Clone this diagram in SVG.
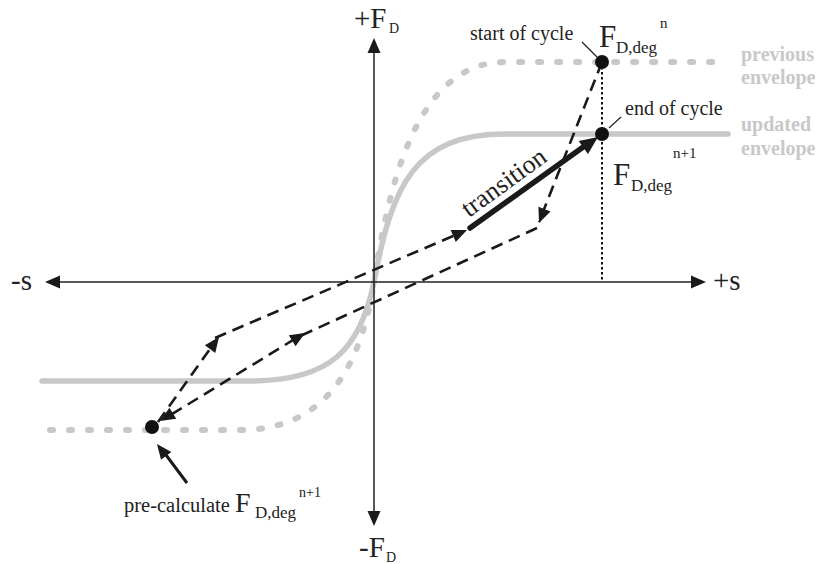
<svg xmlns="http://www.w3.org/2000/svg" xmlns:xlink="http://www.w3.org/1999/xlink" width="820" height="564" viewBox="0 0 820 564">
<style>
.t{font-family:"Liberation Serif","Times New Roman",serif;fill:#222}
.env{font-family:"Liberation Serif","Times New Roman",serif;font-weight:bold;fill:#c8c8c8;font-size:20px}
.axis{stroke:#222;stroke-width:1.5;fill:none}
.dash{stroke:#1a1a1a;stroke-width:2.6;fill:none;stroke-dasharray:12 7}
.prev{stroke:#c8c8c8;stroke-width:6;fill:none;stroke-dasharray:3 16;stroke-linecap:round}
.upd{stroke:#c8c8c8;stroke-width:5.5;fill:none;stroke-linecap:round}
.ah{fill:#1a1a1a}
.pt{fill:#111}
</style>
<defs>
<path id="ah" d="M0,0 L-15,-6.5 L-15,6.5 Z"/>
<path id="ahb" d="M0,0 L-18,-8 L-18,8 Z"/>
</defs>
<g id="envelopes">
<path id="previous-envelope" class="prev" d="M50,430 L240,430 C330,430 362,360 374,282 C388,190 415,62 505,62 L722,62"/>
<path id="updated-envelope" class="upd" d="M42,381 L250,381 C330,381 360,350 374,282 C392,185 415,134 505,134 L728,134"/>
</g>
<g id="axes">
<line class="axis" x1="374" y1="50" x2="374" y2="514"/>
<line class="axis" x1="57" y1="282" x2="694" y2="282"/>
<use xlink:href="#ah" class="ah" transform="translate(374,38) rotate(-90)"/>
<use xlink:href="#ah" class="ah" transform="translate(374,526) rotate(90)"/>
<use xlink:href="#ah" class="ah" transform="translate(45,282) rotate(180)"/>
<use xlink:href="#ah" class="ah" transform="translate(706,282)"/>
<line x1="602" y1="62" x2="602" y2="282" stroke="#111" stroke-width="2" stroke-dasharray="2.5 2.5"/>
</g>
<g id="connectors">
<path class="dash" d="M602,62 L539,222"/>
<path class="dash" d="M537,228 L298,337 L164,419"/>
<path class="dash" d="M158,422 L215,342"/>
<path class="dash" d="M215,338 L460,233"/>
<line x1="470" y1="228" x2="586" y2="145" stroke="#1a1a1a" stroke-width="5.5" stroke-linecap="round"/>
<line x1="187" y1="483" x2="166" y2="455" stroke="#1a1a1a" stroke-width="3"/>
<use xlink:href="#ah" class="ah" transform="translate(539,223) rotate(111.4)"/>
<use xlink:href="#ah" class="ah" transform="translate(160,421) rotate(148.7)"/>
<use xlink:href="#ah" class="ah" transform="translate(305,333) rotate(-31.3)"/>
<use xlink:href="#ah" class="ah" transform="translate(219,337) rotate(-53.4)"/>
<use xlink:href="#ah" class="ah" transform="translate(467,230) rotate(-23.2)"/>
<use xlink:href="#ahb" class="ah" transform="translate(598,137) rotate(-35.4)"/>
<use xlink:href="#ah" class="ah" transform="translate(157,444) rotate(-127.6)"/>
<line x1="582" y1="42" x2="597" y2="57" stroke="#222" stroke-width="1.2"/>
<line x1="621" y1="117" x2="609" y2="128" stroke="#222" stroke-width="1.2"/>
</g>
<g id="node-start">
<circle class="pt" cx="602" cy="62" r="7"/>
<text class="t" x="470" y="40" font-size="20">start of cycle</text>
<text class="t" x="599" y="47" font-size="31">F</text>
<text class="t" x="616" y="53" font-size="17">D,deg</text>
<text class="t" x="660" y="28" font-size="15">n</text>
</g>
<g id="node-end">
<circle class="pt" cx="602" cy="134" r="7"/>
<text class="t" x="625" y="115" font-size="20">end of cycle</text>
<text class="t" x="613" y="185" font-size="31">F</text>
<text class="t" x="631" y="191" font-size="17">D,deg</text>
<text class="t" x="673" y="158" font-size="15">n+1</text>
</g>
<g id="node-precalc">
<circle class="pt" cx="152" cy="427" r="7"/>
<text class="t" x="124" y="512" font-size="20.5">pre-calculate</text>
<text class="t" x="235" y="512" font-size="28">F</text>
<text class="t" x="255" y="518" font-size="17">D,deg</text>
<text class="t" x="299" y="497" font-size="14">n+1</text>
</g>
<g id="labels">
<text class="t" x="354" y="28" font-size="29">+F</text>
<text class="t" x="389" y="33" font-size="14">D</text>
<text class="t" x="359" y="557" font-size="29">-F</text>
<text class="t" x="386" y="562" font-size="14">D</text>
<text class="t" x="11" y="290" font-size="29">-s</text>
<text class="t" x="713" y="290" font-size="29">+s</text>
<text class="t" transform="translate(469,218) rotate(-36)" font-size="26">transition</text>
<text class="env" x="741" y="61">previous</text>
<text class="env" x="741" y="84">envelope</text>
<text class="env" x="741" y="131">updated</text>
<text class="env" x="741" y="155">envelope</text>
</g>
</svg>
